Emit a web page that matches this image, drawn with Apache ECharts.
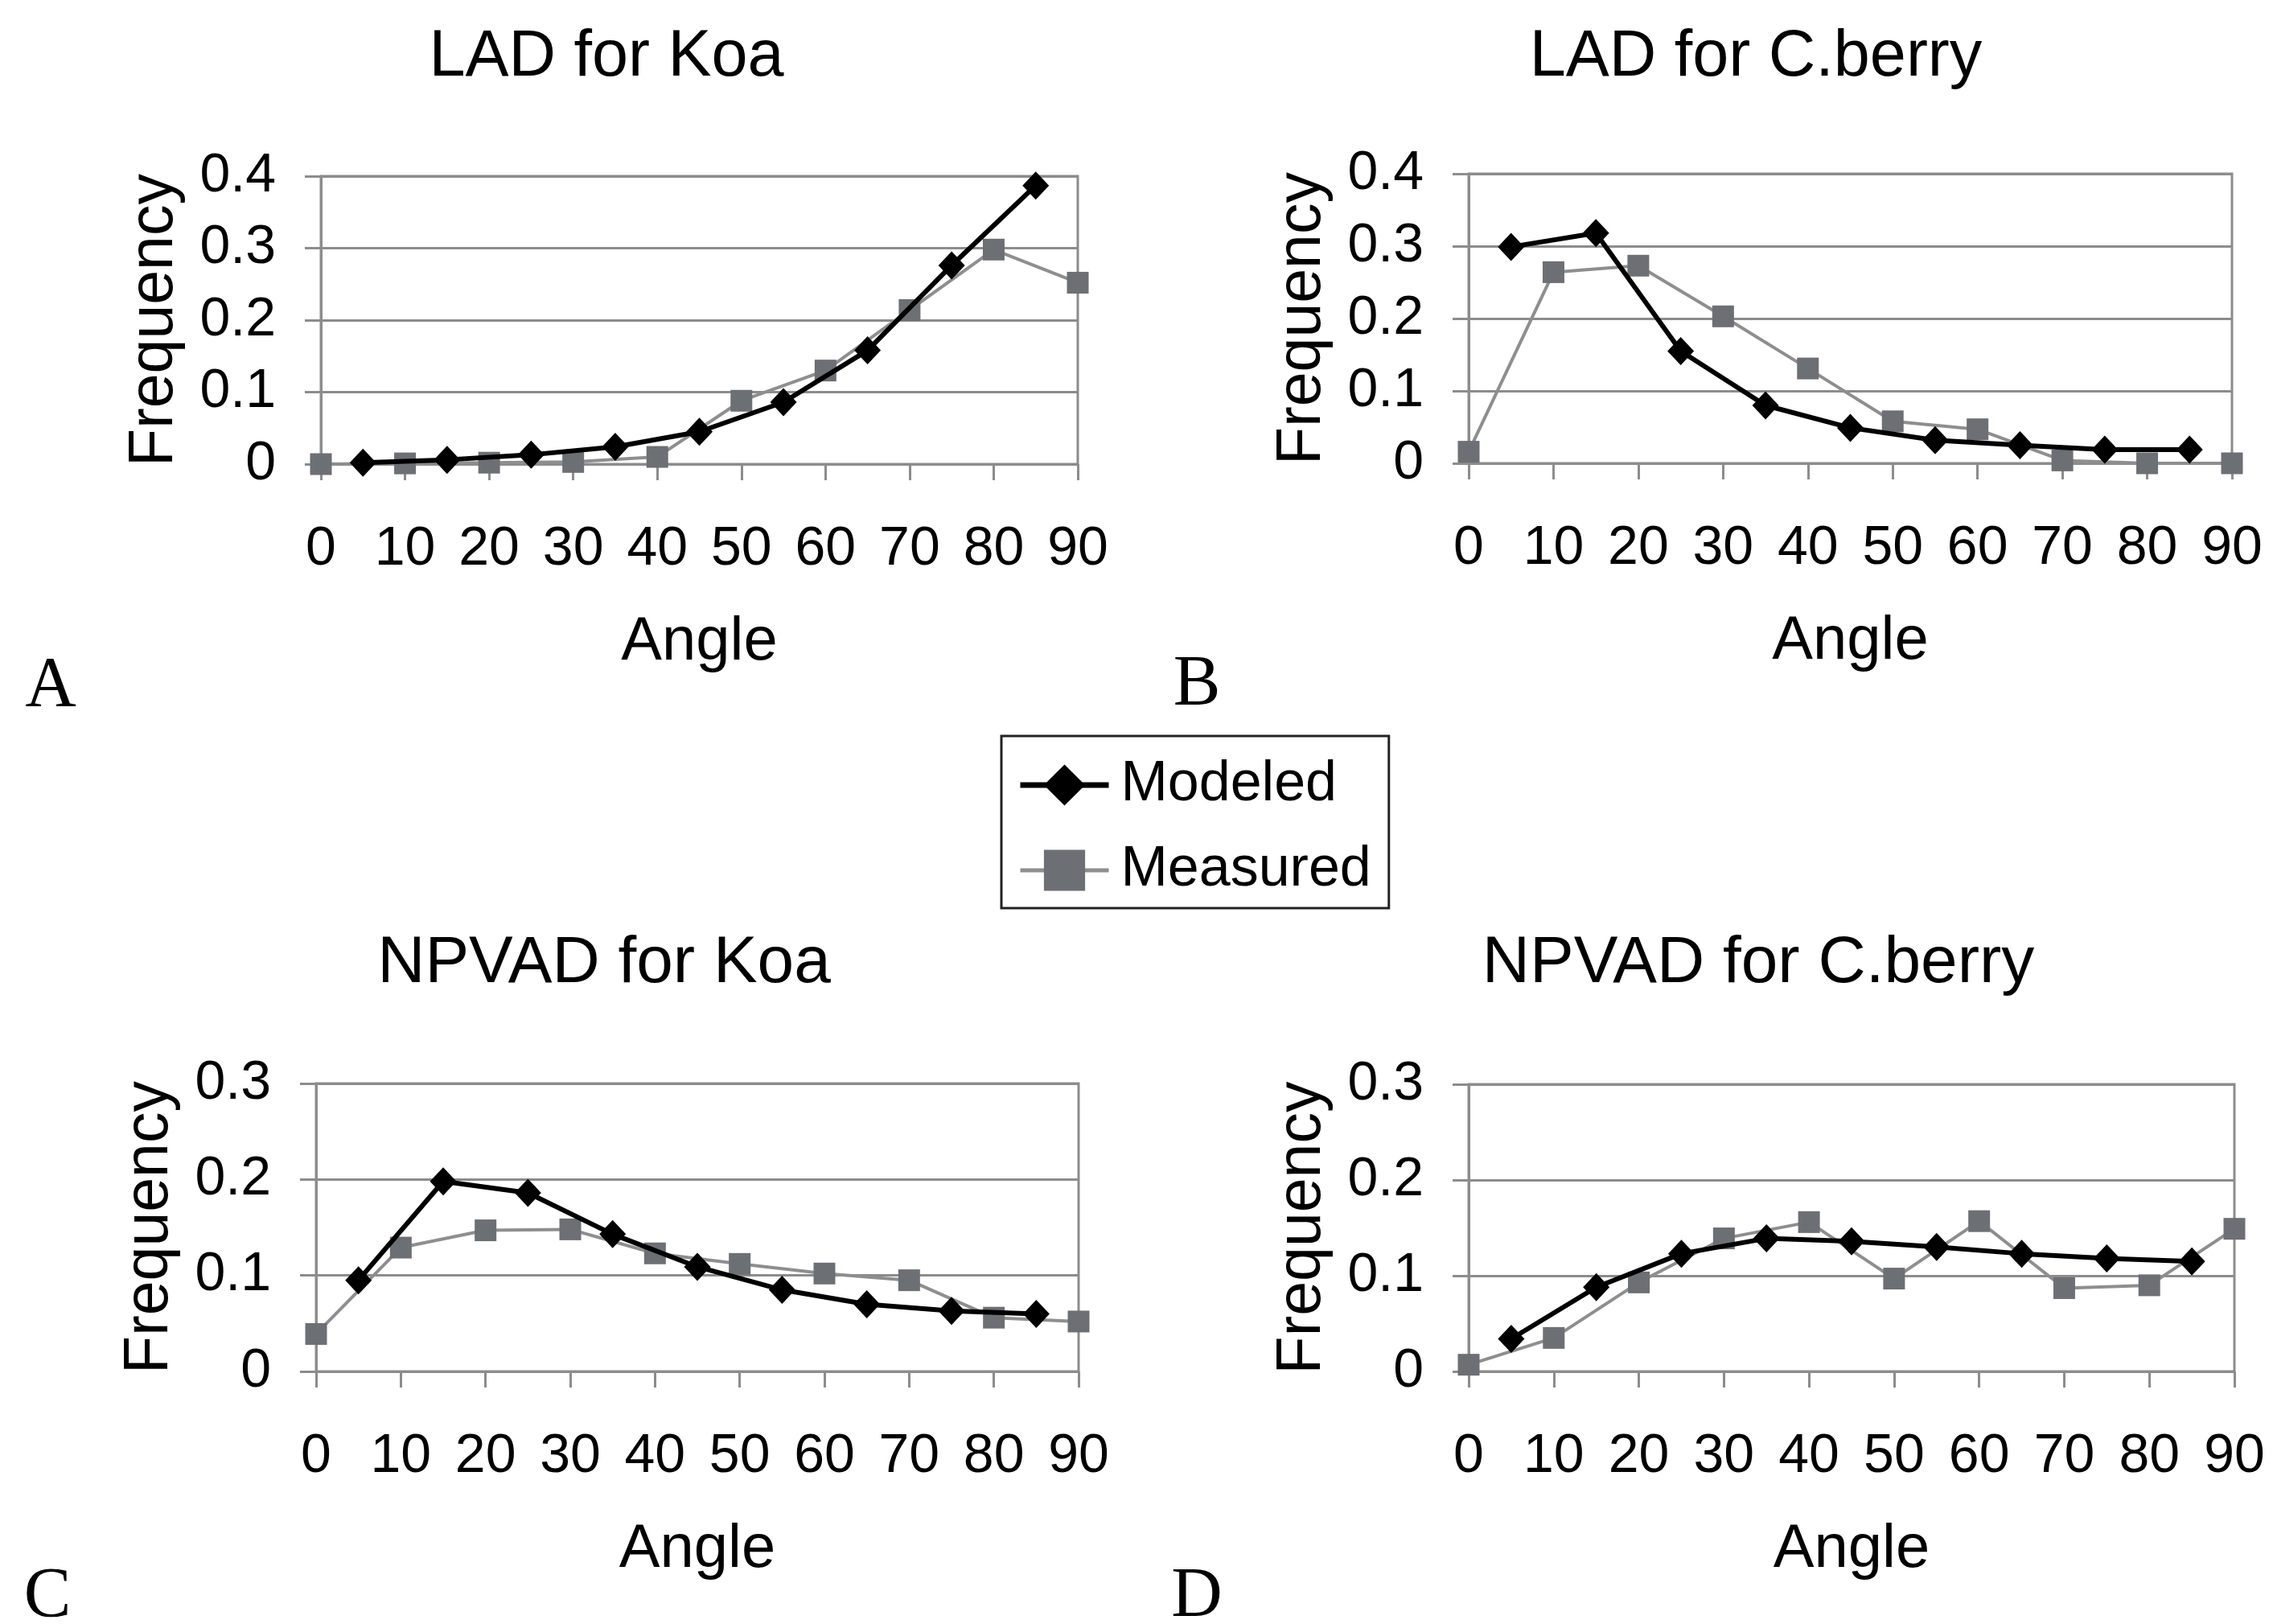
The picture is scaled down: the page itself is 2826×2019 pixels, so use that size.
<!DOCTYPE html>
<html>
<head>
<meta charset="utf-8">
<script src="https://cdn.jsdelivr.net/npm/echarts@6/dist/echarts.min.js"></script>
<style>
  html, body { margin: 0; padding: 0; background: #ffffff; }
  #chart { width: 2826px; height: 2019px; }
</style>
</head>
<body>
<div id="chart"></div>
<script>
// ---- data ----
const angleTicks = [0, 10, 20, 30, 40, 50, 60, 70, 80, 90];
const measuredAngles = [0, 10, 20, 30, 40, 50, 60, 70, 80, 90];
const modeledAngles = [5, 15, 25, 35, 45, 55, 65, 75, 85];
const ladTicks = [0, 0.1, 0.2, 0.3, 0.4];
const npvadTicks = [0, 0.1, 0.2, 0.3];
const seriesNames = ['Modeled', 'Measured'];
const panelTitles = ['LAD for Koa', 'LAD for C.berry', 'NPVAD for Koa', 'NPVAD for C.berry'];
const panelLetters = ['A', 'B', 'C', 'D'];
const xAxisName = 'Angle';
const yAxisName = 'Frequency';

const ladKoaModeled = [0.002, 0.006, 0.013, 0.024, 0.045, 0.086, 0.158, 0.276, 0.387];
const ladKoaMeasured = [0.0, 0.001, 0.002, 0.003, 0.01, 0.088, 0.130, 0.214, 0.298, 0.252];

const ladCberryModeled = [0.299, 0.318, 0.155, 0.080, 0.049, 0.032, 0.025, 0.019, 0.019];
const ladCberryMeasured = [0.016, 0.264, 0.273, 0.203, 0.131, 0.058, 0.047, 0.004, 0.0, 0.0];

const npvadKoaModeled = [0.095, 0.198, 0.186, 0.143, 0.109, 0.085, 0.070, 0.063, 0.060];
const npvadKoaMeasured = [0.039, 0.129, 0.147, 0.148, 0.123, 0.112, 0.102, 0.095, 0.056, 0.052];

const npvadCberryModeled = [0.034, 0.088, 0.123, 0.139, 0.136, 0.130, 0.123, 0.118, 0.115];
const npvadCberryMeasured = [0.007, 0.035, 0.093, 0.139, 0.156, 0.097, 0.157, 0.087, 0.090, 0.149];

// ---- layout & style ----
const SANS = '"Liberation Sans", Arial, Helvetica, sans-serif';
const SERIF = '"Liberation Serif", "Times New Roman", serif';
const GRID_GRAY = '#8c8c8c';
const MEASURED_LINE = '#8e8e8e';
const MEASURED_FILL = '#6c6f74';

const panels = [
  { grid: { left: 399, top: 219, width: 941, height: 358 }, ticks: ladTicks,
    modeled: ladKoaModeled, measured: ladKoaMeasured,
    title: { x: 754, y: 72, size: 81 }, letter: { x: 63, y: 854 } },
  { grid: { left: 1826, top: 216, width: 949, height: 360 }, ticks: ladTicks,
    modeled: ladCberryModeled, measured: ladCberryMeasured,
    title: { x: 2183, y: 72, size: 81 }, letter: { x: 1488, y: 852 } },
  { grid: { left: 393, top: 1347, width: 948, height: 358 }, ticks: npvadTicks,
    modeled: npvadKoaModeled, measured: npvadKoaMeasured,
    title: { x: 751, y: 1198, size: 82 }, letter: { x: 59, y: 1986 } },
  { grid: { left: 1826, top: 1348, width: 952, height: 357 }, ticks: npvadTicks,
    modeled: npvadCberryModeled, measured: npvadCberryMeasured,
    title: { x: 2186, y: 1198, size: 82 }, letter: { x: 1488, y: 1986 } }
];

const pair = (xs, ys) => xs.map((x, i) => [x, ys[i]]);

const grids = [], xAxes = [], yAxes = [], series = [], graphics = [];

panels.forEach((p, i) => {
  grids.push(Object.assign({
    show: true, borderColor: GRID_GRAY, borderWidth: 3, backgroundColor: 'transparent'
  }, p.grid));

  xAxes.push({
    type: 'value', gridIndex: i,
    min: angleTicks[0], max: angleTicks[angleTicks.length - 1],
    interval: angleTicks[1] - angleTicks[0],
    axisLine: { show: true, onZero: false, lineStyle: { color: GRID_GRAY, width: 3 } },
    axisTick: { show: true, inside: false, length: 20, lineStyle: { color: GRID_GRAY, width: 3 } },
    axisLabel: { color: '#000', fontSize: 68, fontFamily: SANS, margin: 72 },
    splitLine: { show: false },
    name: xAxisName, nameLocation: 'middle', nameGap: 184,
    nameTextStyle: { color: '#000', fontSize: 76, fontFamily: SANS }
  });

  yAxes.push({
    type: 'value', gridIndex: i,
    min: p.ticks[0], max: p.ticks[p.ticks.length - 1],
    interval: p.ticks[1] - p.ticks[0],
    axisLine: { show: true, lineStyle: { color: GRID_GRAY, width: 3 } },
    axisTick: { show: true, inside: false, length: 20, lineStyle: { color: GRID_GRAY, width: 3 } },
    axisLabel: { color: '#000', fontSize: 68, fontFamily: SANS, margin: 56 },
    splitLine: { show: true, lineStyle: { color: GRID_GRAY, width: 3 } },
    name: yAxisName, nameLocation: 'middle', nameGap: 168,
    nameTextStyle: { color: '#000', fontSize: 77, fontFamily: SANS }
  });

  series.push({
    name: seriesNames[0], type: 'line', xAxisIndex: i, yAxisIndex: i,
    data: pair(modeledAngles, p.modeled),
    symbol: 'diamond', symbolSize: [33, 35],
    lineStyle: { color: '#000', width: 6 },
    itemStyle: { color: '#000' },
    emphasis: { disabled: true }, animation: false, z: 3
  });
  series.push({
    name: seriesNames[1], type: 'line', xAxisIndex: i, yAxisIndex: i,
    data: pair(measuredAngles, p.measured),
    symbol: 'rect', symbolSize: 27,
    lineStyle: { color: MEASURED_LINE, width: 4 },
    itemStyle: { color: MEASURED_FILL },
    emphasis: { disabled: true }, animation: false, z: 2
  });

  graphics.push({
    type: 'text', x: p.title.x, y: p.title.y,
    style: { text: panelTitles[i], fill: '#000', fontSize: p.title.size, fontFamily: SANS,
             align: 'center', verticalAlign: 'middle' }
  });
  graphics.push({
    type: 'text', x: p.letter.x, y: p.letter.y,
    style: { text: panelLetters[i], fill: '#000', fontSize: 88, fontFamily: SERIF,
             align: 'center', verticalAlign: 'middle' }
  });
});

const chart = echarts.init(document.getElementById('chart'), null, { renderer: 'canvas' });
chart.setOption({
  backgroundColor: '#ffffff',
  animation: false,
  grid: grids,
  xAxis: xAxes,
  yAxis: yAxes,
  series: series,
  graphic: graphics,
  legend: {
    data: [
      { name: seriesNames[0], lineStyle: { color: '#000', width: 7 } },
      { name: seriesNames[1], lineStyle: { color: MEASURED_LINE, width: 5 } }
    ],
    orient: 'vertical',
    left: 1245, top: 915,
    padding: [26, 22, 12, 20],
    itemWidth: 110, itemHeight: 64, itemGap: 36,
    borderColor: '#222', borderWidth: 3, backgroundColor: '#fff',
    textStyle: { color: '#000', fontSize: 70, fontFamily: SANS, padding: [0, 0, 0, 10] },
    selectedMode: false
  }
});
</script>
</body>
</html>
